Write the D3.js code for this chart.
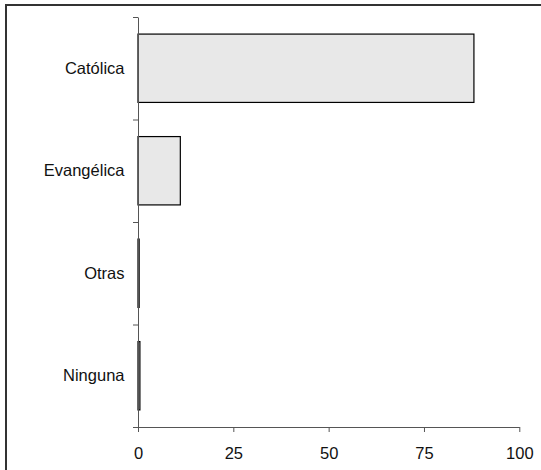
<!DOCTYPE html>
<html><head><meta charset="utf-8">
<script src="https://cdn.jsdelivr.net/npm/d3@7"></script>
<style>body{margin:0;background:#fff}svg{display:block}text{font-family:"Liberation Sans",Arial,sans-serif}</style>
</head><body><svg id="c" width="541" height="470"></svg>
<script>
const categories = ["Católica", "Evangélica", "Otras", "Ninguna"];
const values = [88.1, 11.1, 0.3, 0.5];
const xTicks = [0, 25, 50, 75, 100];

(function () {
const svg = d3.select("#c");
svg.append("rect").attr("x", 6).attr("y", 5).attr("width", 560).attr("height", 500)
  .attr("fill", "none").attr("stroke", "#333").attr("stroke-width", 2);

const mLeft = 138, mRight = 519.3, mTop = 17, mBottom = 427;
const fs = 16.5;
const x = d3.scaleLinear().domain([0, 100]).range([mLeft, mRight]);
const y = d3.scaleBand().domain(categories).range([mTop, mBottom]).paddingInner(1/3).paddingOuter(1/6);
const yb = d3.scaleLinear().domain([0, categories.length]).range([mTop, mBottom]);

// bars
svg.append("g").selectAll("rect").data(categories).join("rect")
  .attr("x", x(0)).attr("y", d => y(d))
  .attr("width", (d, i) => x(values[i]) - x(0))
  .attr("height", y.bandwidth())
  .attr("fill", "#e8e8e8").attr("stroke", "#000").attr("stroke-width", 1.2);

// x axis
const gx = svg.append("g").attr("transform", `translate(0,${mBottom})`)
  .call(d3.axisBottom(x).tickValues(xTicks).tickSize(5).tickPadding(15).tickSizeOuter(0));
gx.selectAll("path,line").attr("stroke", "#555");
gx.selectAll("text").attr("font-size", fs).attr("fill", "#111")
  .style("font-family", '"Liberation Sans",Arial,sans-serif');

// y axis boundary ticks
const gy = svg.append("g").attr("transform", `translate(${mLeft},0)`)
  .call(d3.axisLeft(yb).tickValues(d3.range(categories.length + 1)).tickFormat("").tickSize(5).tickSizeOuter(0));
gy.selectAll("path,line").attr("stroke", "#555");

// y labels
const gl = svg.append("g").attr("transform", `translate(${mLeft},0)`)
  .call(d3.axisLeft(y).tickSize(0).tickPadding(13.5));
gl.select("path").remove();
gl.selectAll("text").attr("font-size", fs).attr("fill", "#111")
  .style("font-family", '"Liberation Sans",Arial,sans-serif');
})();
</script></body></html>
